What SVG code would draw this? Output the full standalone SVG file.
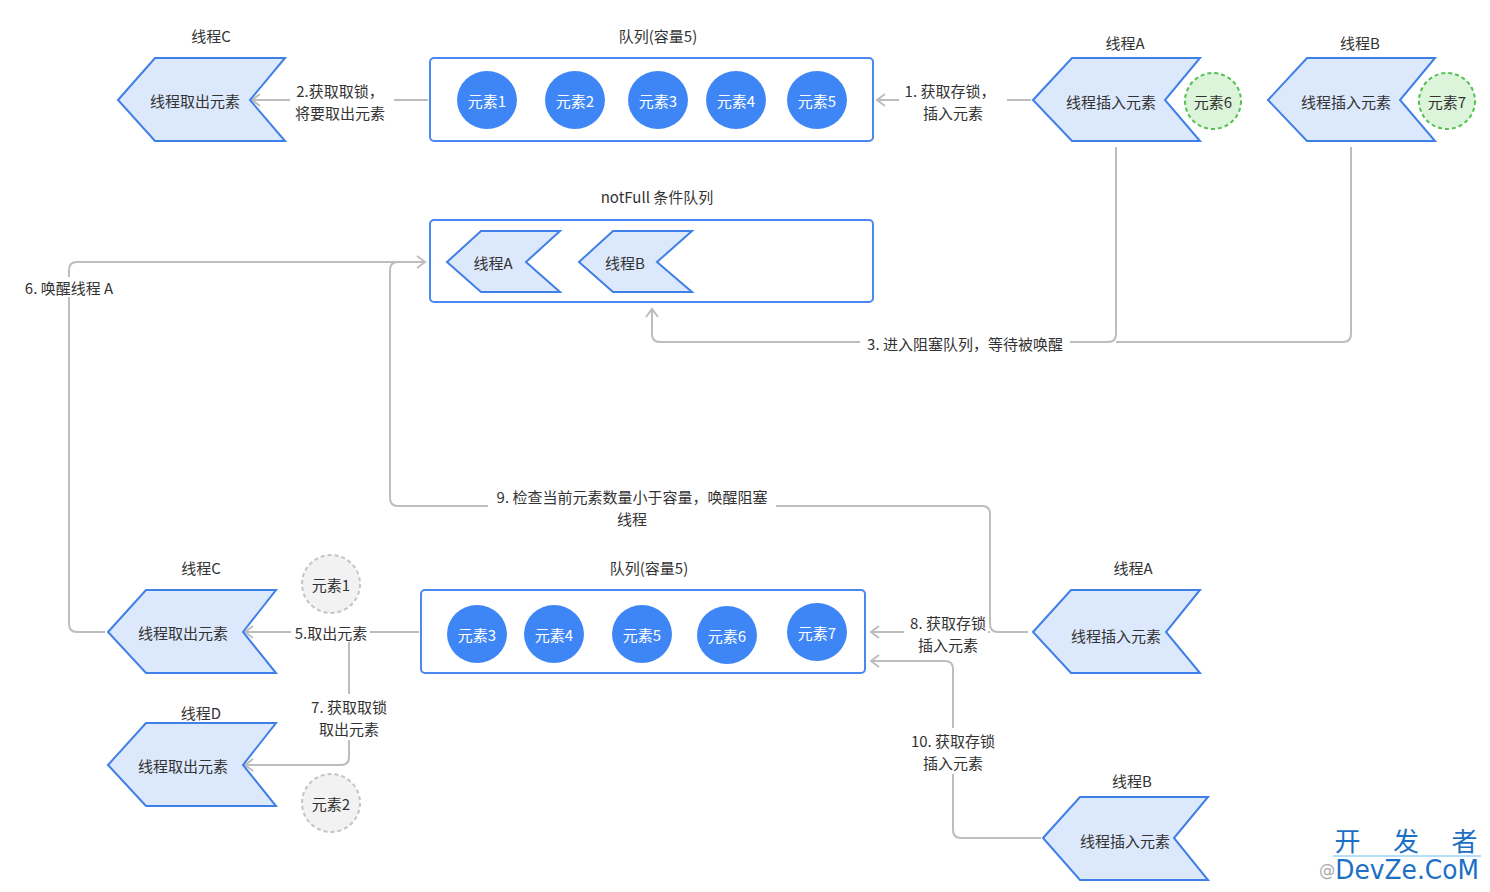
<svg xmlns="http://www.w3.org/2000/svg" width="1490" height="892" viewBox="0 0 1490 892">
<style>
text{font-family:"Noto Sans CJK SC","Liberation Sans",sans-serif;font-size:15px;fill:#333;text-anchor:middle;dominant-baseline:central}
.chev{fill:#dce8fc;stroke:#3f7fe8;stroke-width:2;stroke-linejoin:miter}
.box{fill:#fff;stroke:#4a87ee;stroke-width:2}
.el{fill:#3e86f5}
.elt{fill:#fff}
.g6{fill:#dcf5da;stroke:#52c150;stroke-width:2;stroke-dasharray:4 3}
.gr{fill:#f2f2f2;stroke:#c4c4c4;stroke-width:2;stroke-dasharray:4 3}
.ln{fill:none;stroke:#bdbdbd;stroke-width:2}
.bg{fill:#fff}
</style>
<defs>
<marker id="arr" viewBox="0 0 12 14" refX="2" refY="7" markerWidth="12" markerHeight="14" markerUnits="userSpaceOnUse" orient="auto">
<path d="M10,1 L2,7 L10,13" fill="none" stroke="#bdbdbd" stroke-width="2"/>
</marker>
</defs>
<rect width="1490" height="892" fill="#fff"/>

<g id="connectors">
<path class="ln" d="M428,100 H252" marker-start="url(#arr)" transform="rotate(180 340 100)"/>
<path class="ln" d="M877,100 H1031" marker-start="url(#arr)"/>
<path class="ln" d="M652,309 V334 Q652,342 660,342 H1108 Q1116,342 1116,334 V147" marker-start="url(#arr)"/>
<path class="ln" d="M1116,342 H1343 Q1351,342 1351,334 V147"/>
<path class="ln" d="M425,262 H77 Q69,262 69,270 V624 Q69,632 77,632 H105" marker-start="url(#arr)"/>
<path class="ln" d="M398,262 Q390,262 390,270 V498 Q390,506 398,506 H982 Q990,506 990,514 V624 Q990,632 998,632 H1028"/>
<path class="ln" d="M871,632 H990" marker-start="url(#arr)"/>
<path class="ln" d="M871,661 H945 Q953,661 953,669 V830 Q953,838 961,838 H1041" marker-start="url(#arr)"/>
<path class="ln" d="M245,632 H419" marker-start="url(#arr)"/>
<path class="ln" d="M245,765 H341 Q349,765 349,757 V641" marker-start="url(#arr)"/>

<rect class="bg" x="290" y="78" width="104" height="46"/>
<text x="340" y="90">2.获取取锁，</text>
<text x="340" y="112">将要取出元素</text>
<rect class="bg" x="899" y="78" width="108" height="46"/>
<text x="950" y="90">1. 获取存锁，</text>
<text x="953" y="112">插入元素</text>
<rect class="bg" x="860" y="332" width="210" height="22"/>
<text x="965" y="343">3. 进入阻塞队列，等待被唤醒</text>
<rect class="bg" x="20" y="277" width="98" height="20"/>
<text x="69" y="287">6. 唤醒线程 A</text>
<rect class="bg" x="488" y="484" width="288" height="46"/>
<text x="632" y="496">9. 检查当前元素数量小于容量，唤醒阻塞</text>
<text x="632" y="518">线程</text>
<rect class="bg" x="904" y="610" width="84" height="46"/>
<text x="948" y="622">8. 获取存锁</text>
<text x="948" y="644">插入元素</text>
<rect class="bg" x="904" y="728" width="98" height="46"/>
<text x="953" y="740">10. 获取存锁</text>
<text x="953" y="762">插入元素</text>
<rect class="bg" x="291" y="622" width="79" height="20"/>
<text x="331" y="632">5.取出元素</text>
<rect class="bg" x="305" y="694" width="88" height="46"/>
<text x="349" y="706">7. 获取取锁</text>
<text x="349" y="728">取出元素</text>
</g>

<g id="queue-top">
<text x="658" y="35">队列(容量5)</text>
<rect class="box" x="430" y="58" width="443" height="83" rx="4"/>
<ellipse class="el" cx="487" cy="100" rx="30" ry="29"/><text class="elt" x="487" y="100">元素1</text>
<ellipse class="el" cx="575" cy="100" rx="30" ry="29"/><text class="elt" x="575" y="100">元素2</text>
<ellipse class="el" cx="658" cy="100" rx="30" ry="29"/><text class="elt" x="658" y="100">元素3</text>
<ellipse class="el" cx="736" cy="100" rx="30" ry="29"/><text class="elt" x="736" y="100">元素4</text>
<ellipse class="el" cx="817" cy="100" rx="30" ry="29"/><text class="elt" x="817" y="100">元素5</text>
</g>

<g id="thread-c-top">
<text x="211" y="35">线程C</text>
<polygon class="chev" points="118,100 155,58 285,58 250,100 285,141 155,141"/>
<text x="195" y="100">线程取出元素</text>
</g>

<g id="thread-a-top">
<text x="1125" y="42">线程A</text>
<polygon class="chev" points="1033,100 1072,58 1200,58 1165,100 1200,141 1072,141"/>
<text x="1111" y="101">线程插入元素</text>
<circle class="g6" cx="1213" cy="101" r="28"/>
<text x="1213" y="101">元素6</text>
</g>

<g id="thread-b-top">
<text x="1360" y="42">线程B</text>
<polygon class="chev" points="1268,100 1307,58 1435,58 1400,100 1435,141 1307,141"/>
<text x="1346" y="101">线程插入元素</text>
<circle class="g6" cx="1447" cy="101" r="28"/>
<text x="1447" y="101">元素7</text>
</g>

<g id="notfull">
<text x="657" y="196">notFull 条件队列</text>
<rect class="box" x="430" y="220" width="443" height="82" rx="4"/>
<polygon class="chev" points="447,262 481,231 560,231 526,262 560,292 481,292"/>
<text x="493" y="262">线程A</text>
<polygon class="chev" points="579,262 613,231 692,231 657,262 692,292 613,292"/>
<text x="625" y="262">线程B</text>
</g>

<g id="queue-bottom">
<text x="649" y="567">队列(容量5)</text>
<rect class="box" x="421" y="590" width="444" height="83" rx="4"/>
<ellipse class="el" cx="477" cy="634" rx="30" ry="29"/><text class="elt" x="477" y="634">元素3</text>
<ellipse class="el" cx="554" cy="634" rx="30" ry="29"/><text class="elt" x="554" y="634">元素4</text>
<ellipse class="el" cx="642" cy="634" rx="30" ry="29"/><text class="elt" x="642" y="634">元素5</text>
<ellipse class="el" cx="727" cy="635" rx="30" ry="29"/><text class="elt" x="727" y="635">元素6</text>
<ellipse class="el" cx="817" cy="632" rx="30" ry="29"/><text class="elt" x="817" y="632">元素7</text>
</g>

<g id="thread-c-bottom">
<text x="201" y="567">线程C</text>
<polygon class="chev" points="108,632 146,590 276,590 243,632 276,673 146,673"/>
<text x="183" y="632">线程取出元素</text>
</g>

<g id="elem1-out">
<circle class="gr" cx="331" cy="584" r="29"/>
<text x="331" y="584">元素1</text>
</g>

<g id="thread-d">
<text x="201" y="712">线程D</text>
<polygon class="chev" points="108,765 146,723 276,723 243,765 276,806 146,806"/>
<text x="183" y="765">线程取出元素</text>
</g>

<g id="elem2-out">
<circle class="gr" cx="331" cy="803" r="29"/>
<text x="331" y="803">元素2</text>
</g>

<g id="thread-a-bottom">
<text x="1133" y="567">线程A</text>
<polygon class="chev" points="1033,632 1071,590 1200,590 1166,632 1200,673 1071,673"/>
<text x="1116" y="635">线程插入元素</text>
</g>

<g id="thread-b-bottom">
<text x="1132" y="780">线程B</text>
<polygon class="chev" points="1043,838 1080,797 1208,797 1174,838 1208,880 1080,880"/>
<text x="1125" y="840">线程插入元素</text>
</g>

<g id="watermark">
<text x="1406" y="839" style="font-size:26px;fill:#1d6fc4" textLength="143" lengthAdjust="spacing">开 发 者</text>
<line x1="1333" y1="856" x2="1481" y2="856" stroke="#6cc0ee" stroke-width="1"/>
<text x="1399" y="870" style="font-size:26px;fill:#1d6fc4;font-family:'DejaVu Sans','Liberation Sans',sans-serif" textLength="160" lengthAdjust="spacingAndGlyphs"><tspan style="fill:#aaa;font-size:17px">@</tspan>DevZe.CoM</text>
</g>
</svg>
